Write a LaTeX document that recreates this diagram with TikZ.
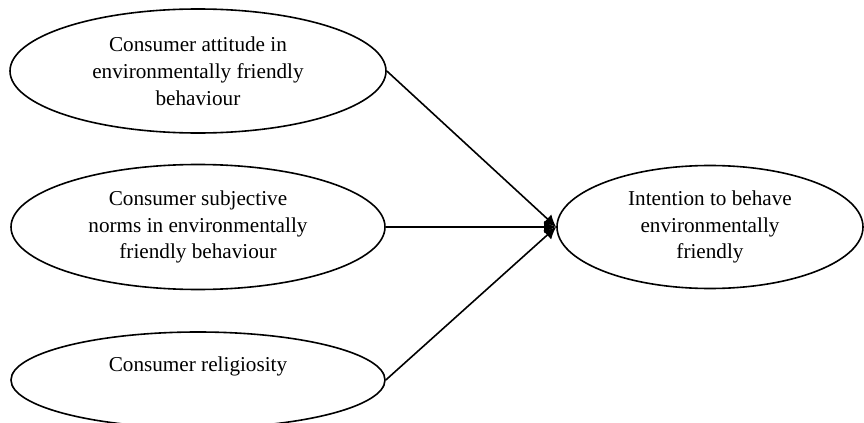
\documentclass[tikz,border=0pt]{standalone}
\usepackage{fontspec}
\setmainfont{Liberation Serif}
\usetikzlibrary{shapes.geometric,arrows.meta}

\begin{document}
\begin{tikzpicture}[x=0.5pt, y=-0.5pt,
	construto/.style={draw, ellipse, line width=0.8pt, inner sep=0pt, align=center,
		font=\fontsize{10.6}{13.4}\selectfont},
	seta/.style={-{Latex[length=6pt,width=6pt]}, line width=0.8pt}]
	% the frame of the picture
		\useasboundingbox (0,0) rectangle (864,423);

	% the four constructs
		\node[construto, minimum width=188pt, minimum height=62pt] (atitude) at (198,71)
			{Consumer attitude in\\environmentally friendly\\behaviour};
		\node[construto, minimum width=187pt, minimum height=62.5pt] (normas) at (198,227)
			{Consumer subjective\\norms in environmentally\\friendly behaviour};
		\node[construto, minimum width=187pt, minimum height=48pt] (religiosidade) at (198,380)
			{Consumer religiosity\\[2pt]~};
		\node[construto, minimum width=153pt, minimum height=61.5pt] (intencao) at (710,227)
			{Intention to behave\\environmentally\\friendly};

	% the arrows into the intention
		\draw[seta] (atitude.east) -- (intencao.west);
		\draw[seta] (normas.east) -- (intencao.west);
		\draw[seta] (religiosidade.east) -- (intencao.west);
\end{tikzpicture}
\end{document}
